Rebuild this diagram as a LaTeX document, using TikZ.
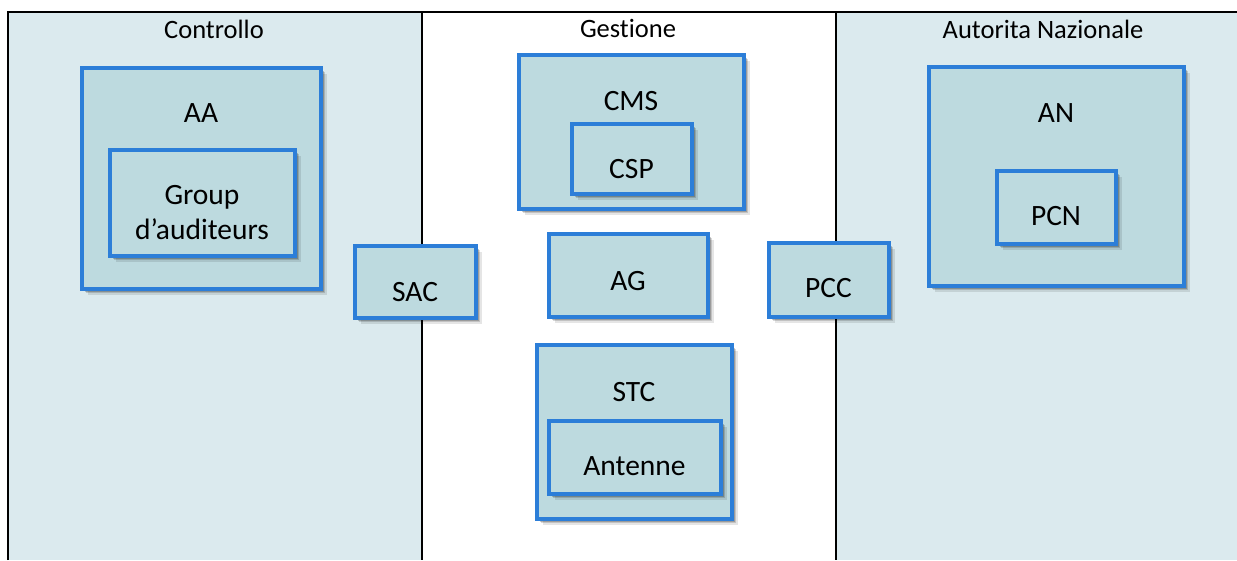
\documentclass[tikz,border=0pt]{standalone}
\usepackage{fontspec}
\setmainfont{Carlito}[Ligatures=NoCommon]
\usetikzlibrary{shadows}
\definecolor{panel}{HTML}{DBEAEE}
\definecolor{boxfill}{HTML}{BDDADF}
\definecolor{boxline}{HTML}{2C7ED8}
\tikzset{
  box/.style={rectangle, draw=boxline, fill=boxfill, line width=4pt, inner sep=0pt,
    general shadow={shadow xshift=6pt, shadow yshift=-6pt, opacity=0.1, fill=black},
    general shadow={shadow xshift=4.5pt, shadow yshift=-4.5pt, opacity=0.15, fill=black},
    general shadow={shadow xshift=3pt, shadow yshift=-3pt, opacity=0.2, fill=black}},
  lbl/.style={anchor=base, inner sep=0pt, font=\fontsize{29.5}{35}\selectfont},
  title/.style={anchor=base, inner sep=0pt, font=\fontsize{26.5}{32}\selectfont},
}
\begin{document}
\begin{tikzpicture}[x=1pt,y=-1pt]
\useasboundingbox (0,0) rectangle (1237,560);
% panels
\fill[panel] (8,12) rectangle (422,560);
\fill[white] (422,12) rectangle (836,560);
\fill[panel] (836,12) rectangle (1237,560);
\draw[line width=2.2pt] (8,560) -- (8,12) -- (1237,12);
\draw[line width=2.2pt] (422,12) -- (422,560);
\draw[line width=2.2pt] (836,12) -- (836,560);
% titles
\node[title] (t1) at (214,38.5) {Controllo};
\node[title] (t2) at (628,37.5) {Gestione};
\node[title] (t3) at (1043,38.5) {Autorita Nazionale};
% Controllo
\node[box, minimum width=239pt, minimum height=221pt] (AA) at (201,178) {};
\node[lbl] (AAt) at (201,122.5) {AA};
\node[box, minimum width=185pt, minimum height=106pt] (GA) at (202,202.5) {};
\node[lbl] (GAt1) at (202,204) {Group};
\node[lbl] (GAt2) at (202,239) {d’auditeurs};
% SAC
\node[box, minimum width=121pt, minimum height=72pt] (SAC) at (415,281.5) {};
\node[lbl] (SACt) at (415,301) {SAC};
% Gestione
\node[box, minimum width=225pt, minimum height=154pt] (CMS) at (631,131.5) {};
\node[lbl] (CMSt) at (631,110) {CMS};
\node[box, minimum width=120pt, minimum height=70pt] (CSP) at (631.5,158.5) {};
\node[lbl] (CSPt) at (631.5,178) {CSP};
\node[box, minimum width=159pt, minimum height=83pt] (AG) at (628,275) {};
\node[lbl] (AGt) at (628,290) {AG};
\node[box, minimum width=195pt, minimum height=174pt] (STC) at (634,431.5) {};
\node[lbl] (STCt) at (634,401) {STC};
\node[box, minimum width=172pt, minimum height=73pt] (ANT) at (634.5,457) {};
\node[lbl] (ANTt) at (634.5,475) {Antenne};
% PCC
\node[box, minimum width=120pt, minimum height=74pt] (PCC) at (828.5,279.5) {};
\node[lbl] (PCCt) at (828.5,297) {PCC};
% Autorita
\node[box, minimum width=255pt, minimum height=219pt] (AN) at (1056,176) {};
\node[lbl] (ANt) at (1056,122) {AN};
\node[box, minimum width=119pt, minimum height=73pt] (PCN) at (1056,207) {};
\node[lbl] (PCNt) at (1056,225) {PCN};
\end{tikzpicture}
\end{document}
